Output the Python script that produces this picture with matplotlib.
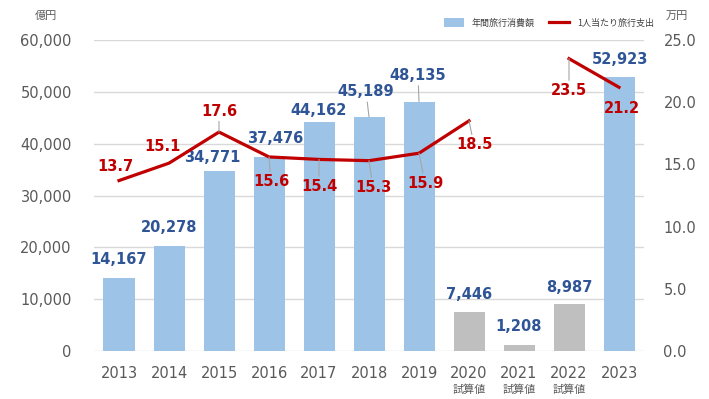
import matplotlib
matplotlib.use("Agg")
import matplotlib.pyplot as plt
import numpy as np
from matplotlib.patches import Patch
from matplotlib.lines import Line2D

# ---- data ----
years = ["2013", "2014", "2015", "2016", "2017", "2018", "2019", "2020", "2021", "2022", "2023"]
spending = [14167, 20278, 34771, 37476, 44162, 45189, 48135, 7446, 1208, 8987, 52923]
per_person = [13.7, 15.1, 17.6, 15.6, 15.4, 15.3, 15.9, 18.5, np.nan, 23.5, 21.2]
estimate_years = ["2020", "2021", "2022"]
estimate_note = "試算値"
bar_label = "年間旅行消費額"
line_label = "1人当たり旅行支出"
left_unit = "億円"
right_unit = "万円"

# ---- layout / style ----
BLUE = "#9DC3E6"
GRAY_BAR = "#BFBFBF"
RED = "#C00000"
NAVY = "#2F5597"
TXT = "#595959"
GRID = "#D9D9D9"
CJK = ["Noto Sans CJK JP", "DejaVu Sans"]

bar_off = [(0, 18), (0, 18), (-7, 13), (6, 18), (0, 12), (-3, 25), (-1, 26),
           (0, 18), (0, 18), (0, 17), (1, 17)]
bar_leader = [False, False, False, False, False, True, True, False, False, False, False]
line_off = [(-4, 14), (-7, 17), (0, 21), (2, -25), (0, -27), (4, -27), (6, -30),
            (5, -24), None, (0, -32), (3, -21)]
line_leader = [False, False, True, True, True, True, True, True, False, True, False]

plt.rcParams['font.family'] = ['DejaVu Sans']
fig = plt.figure(figsize=(7.09, 3.99), dpi=100)
ax = fig.add_axes([94 / 709, 1 - 351 / 399, 550 / 709, 311 / 399])
ax2 = ax.twinx()

x = np.arange(len(years))
colors = [GRAY_BAR if y in estimate_years else BLUE for y in years]
ax.bar(x, spending, width=0.62, color=colors, zorder=2)
ax.set_xlim(-0.5, len(years) - 0.5)
ax.set_ylim(0, 60000)
ax.set_yticks(np.arange(0, 60001, 10000))
ax.set_yticklabels([f"{v:,}" for v in range(0, 60001, 10000)])
ax.grid(axis='y', color=GRID, lw=1, zorder=0)
ax.set_axisbelow(True)
for s in ax.spines.values():
    s.set_visible(False)
for s in ax2.spines.values():
    s.set_visible(False)
ax.tick_params(axis='y', length=0, pad=16, labelsize=10.5, labelcolor=TXT)
ax.set_xticks(x)
ax.set_xticklabels(years)
ax.tick_params(axis='x', length=0, pad=11, labelsize=10.5, labelcolor=TXT)

ax2.plot(x, per_person, color=RED, lw=2.3, zorder=5, solid_joinstyle='miter')
ax2.set_ylim(0, 25)
ax2.set_yticks(np.arange(0, 25.1, 5))
ax2.set_yticklabels([f"{v:.1f}" for v in np.arange(0, 25.1, 5)])
ax2.tick_params(axis='y', length=0, pad=14, labelsize=10.5, labelcolor=TXT)

# bar value labels
for i, v in enumerate(spending):
    dx, dy = bar_off[i]
    kw = {}
    if bar_leader[i]:
        kw = dict(arrowprops=dict(arrowstyle='-', color='#A6A6A6', lw=0.8, shrinkA=0, shrinkB=0))
    ax.annotate(f"{v:,}", xy=(i, v), xytext=(dx, dy), textcoords='offset pixels',
                ha='center', va='center', fontsize=10.5, fontweight='bold', color=NAVY, **kw)

# line value labels
for i, v in enumerate(per_person):
    if line_off[i] is None or np.isnan(v):
        continue
    dx, dy = line_off[i]
    kw = {}
    if line_leader[i]:
        kw = dict(arrowprops=dict(arrowstyle='-', color='#A6A6A6', lw=0.8, shrinkA=0, shrinkB=0))
    ax2.annotate(f"{v:.1f}", xy=(i, v), xytext=(dx, dy), textcoords='offset pixels',
                 ha='center', va='center', fontsize=10.5, fontweight='bold', color=RED,
                 zorder=6, **kw)

# estimate notes
for i, y in enumerate(years):
    if y in estimate_years:
        ax.annotate(estimate_note, xy=(i, 0), xycoords=('data', 'axes fraction'),
                    xytext=(0, -39), textcoords='offset pixels', ha='center', va='center',
                    fontsize=8, color=TXT, family=CJK, annotation_clip=False)

# units
fig.text(46 / 709, 1 - 16 / 399, left_unit, ha='center', va='center', fontsize=8,
         color=TXT, family=CJK)
fig.text(677 / 709, 1 - 16 / 399, right_unit, ha='center', va='center', fontsize=8,
         color=TXT, family=CJK)

# legend
handles = [Patch(facecolor=BLUE, edgecolor='none'), Line2D([0], [0], color=RED, lw=2.3)]
leg = fig.legend(handles, [bar_label, line_label], loc='center',
                 bbox_to_anchor=(549 / 709, 1 - 23 / 399), ncol=2, frameon=False,
                 prop={'family': CJK, 'size': 6.5}, handlelength=2.2, handleheight=1.1,
                 columnspacing=1.6, handletextpad=0.9)
for t in leg.get_texts():
    t.set_color("#404040")

fig.savefig("out.png", dpi=100)
